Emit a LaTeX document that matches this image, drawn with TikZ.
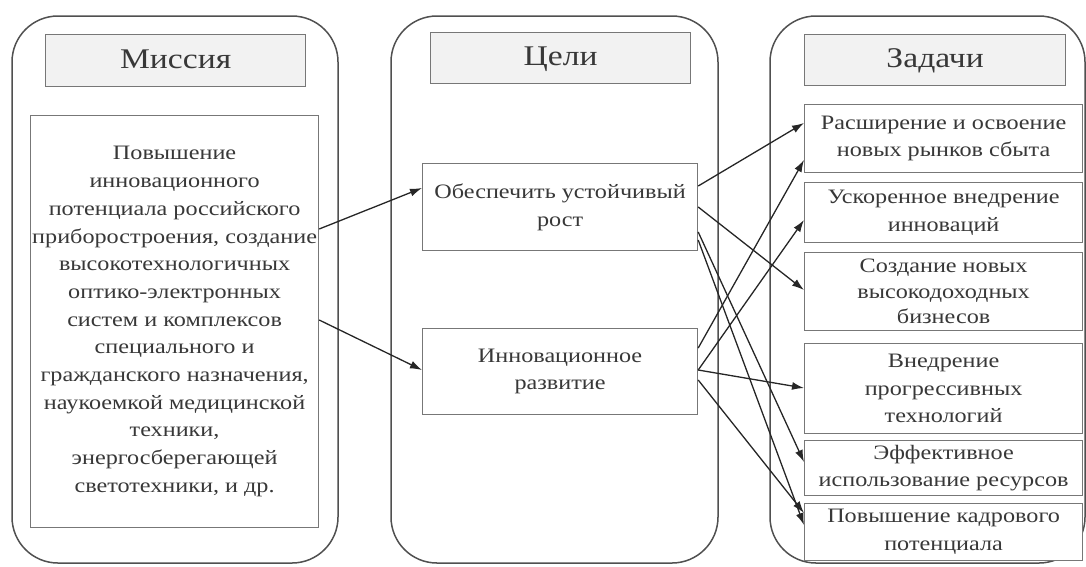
\documentclass[tikz,border=0pt]{standalone}
\usepackage{fontspec}
\setmainfont{Liberation Serif}[FakeStretch=1.18]
\usetikzlibrary{arrows.meta,calc}
\definecolor{txt}{HTML}{383838}
\definecolor{frame}{HTML}{505050}
\definecolor{boxline}{HTML}{777777}
\definecolor{headfill}{HTML}{F2F2F2}
\tikzset{
  column/.style={draw=frame, line width=1.5pt, rounded corners=46pt},
  headbox/.style={draw=boxline, line width=1.3pt, fill=headfill, anchor=north west, inner sep=0pt,
    text=txt, text height=20pt, text depth=5pt, font=\fontsize{28.5}{30}\selectfont},
  itembox/.style={draw=boxline, line width=1.2pt, fill=white, anchor=north west, inner sep=0pt,
    text=txt, align=center, font=\fontsize{20.5}{27.7}\selectfont},
  link/.style={draw=black!85, line width=1.3pt, -{Latex[length=12pt,width=8pt]}}
}
\begin{document}
\begin{tikzpicture}[x=1pt,y=-1pt]
\useasboundingbox (0,0) rectangle (1086,566);
% columns
\draw[column] (12,16) rectangle (338,563);
\draw[column] (391,16) rectangle (718,563);
\draw[column] (770,16) rectangle (1085,563);
% headers
\node[headbox, minimum width=260pt, minimum height=52pt] (h1) at (45,34) {Миссия};
\node[headbox, minimum width=260pt, minimum height=51pt] (h2) at (430,32) {Цели};
\node[headbox, minimum width=261pt, minimum height=51pt] (h3) at (804,34) {Задачи};
% mission
\node[itembox, minimum width=288pt, minimum height=412pt] (m) at (30,115)
 {Повышение\\инновационного\\потенциала российского\\приборостроения, создание\\высокотехнологичных\\оптико-электронных\\систем и комплексов\\специального и\\гражданского назначения,\\наукоемкой медицинской\\техники,\\энергосберегающей\\светотехники, и др.};
% goals
\node[itembox, minimum width=275pt, minimum height=87pt] (g1) at (422,163) {Обеспечить устойчивый\\рост};
\node[itembox, minimum width=275pt, minimum height=86pt] (g2) at (422,328) {Инновационное\\развитие};
% tasks
\node[itembox, minimum width=278pt, minimum height=68pt] (t1) at (804,104) {Расширение и освоение\\новых рынков сбыта};
\node[itembox, minimum width=278pt, minimum height=60pt] (t2) at (804,182) {Ускоренное внедрение\\инноваций};
\node[itembox, minimum width=278pt, minimum height=78pt, font=\fontsize{20.5}{25.5}\selectfont] (t3) at (804,252) {Создание новых\\высокодоходных\\бизнесов};
\node[itembox, minimum width=278pt, minimum height=90pt] (t4) at (804,343) {Внедрение\\прогрессивных\\технологий};
\node[itembox, minimum width=278pt, minimum height=55pt] (t5) at (804,440) {Эффективное\\использование ресурсов};
\node[itembox, minimum width=278pt, minimum height=57pt] (t6) at (804,503) {Повышение кадрового\\потенциала};
% mission -> goals
\draw[link] ([yshift=-114pt]m.north east) -- ([yshift=-25pt]g1.north west);
\draw[link] ([yshift=-205pt]m.north east) -- ([yshift=-42pt]g2.north west);
% goal 1 -> tasks
\draw[link] ([yshift=-23pt]g1.north east) -- ([yshift=-19pt]t1.north west);
\draw[link] ([yshift=-44pt]g1.north east) -- ([yshift=-38pt]t3.north west);
\draw[link] ([yshift=-69pt]g1.north east) -- ([yshift=-22pt]t5.north west);
\draw[link] ([yshift=-77pt]g1.north east) -- ([yshift=-22pt]t6.north west);
% goal 2 -> tasks
\draw[link] ([yshift=-20pt]g2.north east) -- ([yshift=-56pt]t1.north west);
\draw[link] ([yshift=-42pt]g2.north east) -- ([yshift=-38pt]t2.north west);
\draw[link] ([yshift=-42pt]g2.north east) -- ([yshift=-45pt]t4.north west);
\draw[link] ([yshift=-52pt]g2.north east) -- ([yshift=-10pt]t6.north west);
\end{tikzpicture}
\end{document}
